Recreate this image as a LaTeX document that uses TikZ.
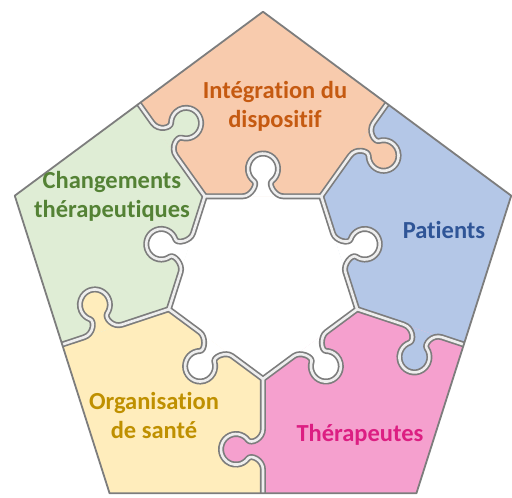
\documentclass[tikz,border=0pt]{standalone}
\usepackage{fontspec}
\setmainfont{Carlito}[Ligatures={NoCommon}]
\usepackage{xcolor}
\usepackage{tikz}
\usetikzlibrary{calc}
\definecolor{integfill}{RGB}{248,203,173}
\definecolor{integtext}{RGB}{197,90,17}
\definecolor{patfill}{RGB}{180,199,231}
\definecolor{pattext}{RGB}{47,85,151}
\definecolor{therfill}{RGB}{245,160,206}
\definecolor{thertext}{RGB}{220,30,130}
\definecolor{orgfill}{RGB}{255,237,188}
\definecolor{orgtext}{RGB}{191,144,0}
\definecolor{chgfill}{RGB}{223,237,213}
\definecolor{chgtext}{RGB}{84,130,53}
\definecolor{groovedark}{RGB}{125,125,125}
\definecolor{groovelight}{RGB}{238,238,238}

\tikzset{
    piecelabel/.style={font=\bfseries\fontsize{24.5}{29}\selectfont, align=center},
    groove/.style={line cap=round, line join=round},
}

\begin{document}
\begin{tikzpicture}[x=1pt, y=1pt, yscale=1.02]
    \useasboundingbox (-263,-215.7) rectangle (249,272.5);
    % Piece wedges (vertex angle / colour)
    \foreach \a/\c in {90/integfill, 18/patfill, -54/therfill, -126/orgfill, 162/chgfill} {
        \fill[\c] ({\a-36}:99) -- ({\a-36}:211.2) -- (\a:261) -- ({\a+36}:211.2) -- ({\a+36}:99) -- cycle;
    }
    % Tabs (seam angle / owner colour)
    \foreach \s/\c in {54/integfill, -18/patfill, -90/therfill, 198/orgfill, 126/chgfill} {
        \fill[\c, rotate=\s] (148,0) .. controls (158,0) and (163,-12) .. (159,-15)
            arc[start angle=126.87, end angle=413.13, radius=15]
            .. controls (173,-12) and (178,0) .. (188,0) -- cycle;
    }
    % Central hole with its sockets
    \fill[white] (-90:99) -- (-18:99) -- (54:99) -- (126:99) -- (198:99) -- cycle;
    \foreach \a in {90,18,-54,-126,162} {
        \fill[white, rotate=\a] (80.1,-20) .. controls (80.1,-12) and (92,-5) .. (95,-9)
            arc[start angle=216.87, end angle=503.13, radius=15]
            .. controls (92,5) and (80.1,12) .. (80.1,20) -- cycle;
    }
    % Grooves between the pieces
    \begin{scope}
        \clip (90:261) -- (162:261) -- (234:261) -- (306:261) -- (18:261) -- cycle;
        \foreach \w/\c in {6pt/groovedark, 2.6pt/groovelight} {
            \foreach \s in {54,-18,-90,198,126} {
                \draw[groove, \c, line width=\w, rotate=\s] (99,0) -- (148,0)
                    .. controls (158,0) and (163,-12) .. (159,-15)
                    arc[start angle=126.87, end angle=413.13, radius=15]
                    .. controls (173,-12) and (178,0) .. (188,0) -- (214,0);
            }
            \foreach \a in {90,18,-54,-126,162} {
                \draw[groove, \c, line width=\w, rotate=\a] (80.1,-58.2) -- (80.1,-20)
                    .. controls (80.1,-12) and (92,-5) .. (95,-9)
                    arc[start angle=216.87, end angle=503.13, radius=15]
                    .. controls (92,5) and (80.1,12) .. (80.1,20) -- (80.1,58.2);
            }
        }
    \end{scope}
    % Outer outline
    \draw[groovedark, line width=1.8pt, line join=round]
        (90:261) -- (162:261) -- (234:261) -- (306:261) -- (18:261) -- cycle;
    % Labels
    \node[piecelabel, text=integtext] (integration) at (12,168.6) {Intégration du\\dispositif};
    \node[piecelabel, text=pattext] (patients) at (181,47) {Patients};
    \node[piecelabel, text=thertext] (therapeutes) at (97,-153.9) {Thérapeutes};
    \node[piecelabel, text=orgtext] (organisation) at (-109,-135.3) {Organisation\\de santé};
    \node[piecelabel, text=chgtext] (changements) at (-151,79.9) {Changements\\thérapeutiques};
\end{tikzpicture}
\end{document}
